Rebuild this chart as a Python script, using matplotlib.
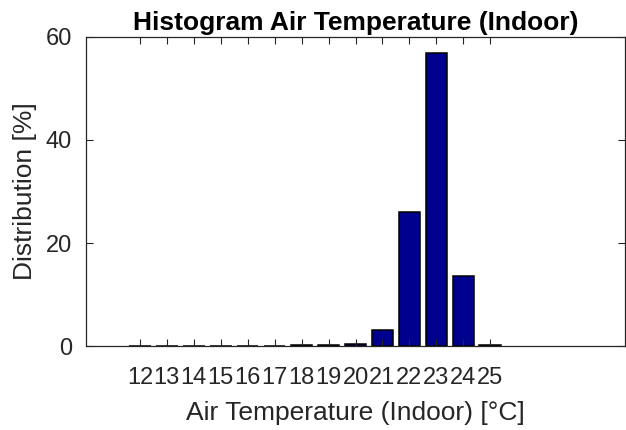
import matplotlib.pyplot as plt

plt.rcParams['font.family'] = ['Liberation Sans', 'DejaVu Sans']

temps = [12, 13, 14, 15, 16, 17, 18, 19, 20, 21, 22, 23, 24, 25]
dist = [0.0, 0.0, 0.0, 0.0, 0.02, 0.05, 0.12, 0.15, 0.3, 3.1, 26.1, 56.8, 13.6, 0.15]

fig = plt.figure(figsize=(6.26, 4.30), dpi=100)
ax = fig.add_axes([0.1374, 0.1953, 0.8610, 0.7187])

ax.bar(temps, dist, width=0.8, color='#00008F', edgecolor='black', linewidth=1.1)

ax.set_xlim(10, 30)
ax.set_ylim(0, 60)
ax.set_xticks(temps)
ax.set_xticklabels([str(t) for t in temps])
ax.set_yticks([0, 20, 40, 60])

ax.tick_params(direction='in', top=True, right=True, length=5, width=0.8,
               labelsize=17, colors='#262626')
ax.tick_params(axis='x', pad=15)
ax.tick_params(axis='y', pad=10)
for s in ax.spines.values():
    s.set_color('#262626')
    s.set_linewidth(0.9)

ax.set_title('Histogram Air Temperature (Indoor)', fontsize=19, fontweight='bold', pad=5)
ax.set_xlabel('Air Temperature (Indoor) [°C]', fontsize=19, color='#262626', labelpad=9)
ax.set_ylabel('Distribution [%]', fontsize=19, color='#262626', labelpad=6)

fig.savefig('out.png', dpi=100)
